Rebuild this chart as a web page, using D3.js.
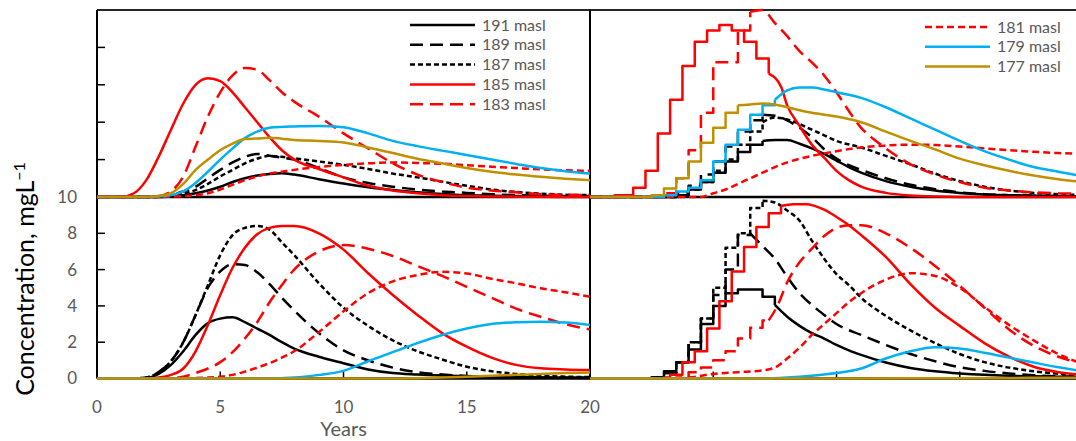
<!DOCTYPE html>
<html>
<head>
<meta charset="utf-8">
<script src="https://cdn.jsdelivr.net/npm/d3@7"></script>
<style>
  body { margin: 0; background: #fff; }
  svg { display: block; }
  text { font-family: Lato, "Open Sans", sans-serif; }
</style>
</head>
<body>
<svg id="chart" width="1076" height="441"></svg>
<script>
// ── Series (masl levels) ────────────────────────────────────────────────────
const levels = ['191', '189', '187', '185', '183', '181', '179', '177'];
const lineColors = ['#000000', '#000000', '#000000', '#ff0000', '#ff0000', '#ff0000', '#00b0f0', '#bf9000'];
const lineDash = ['', '13,7', '5,3', '', '13,7', '7,4', '', ''];

const xTicks = [0, 5, 10, 15, 20];
const yTicks = [0, 2, 4, 6, 8, 10];

// ── Left panels: shared year grid ───────────────────────────────────────────
const years = [0, 1, 1.5, 2, 2.5, 3, 3.5, 4, 4.5, 5, 5.5, 6, 6.5, 7, 7.5, 8, 9, 10, 11, 12, 13, 14, 15, 16, 17, 18, 19, 20];

// top-left
const tl191 = [0, 0, 0, 0, 0, 0.05, 0.1, 0.2, 0.35, 0.55, 0.8, 1.0, 1.15, 1.23, 1.27, 1.2, 0.95, 0.72, 0.52, 0.37, 0.25, 0.16, 0.1, 0.07, 0.05, 0.04, 0.03, 0.02];
const tl189 = [0, 0, 0, 0, 0.02, 0.1, 0.3, 0.55, 1.0, 1.45, 1.85, 2.15, 2.3, 2.2, 2.1, 2.0, 1.55, 1.05, 0.75, 0.55, 0.4, 0.3, 0.22, 0.15, 0.1, 0.07, 0.05, 0.05];
const tl187 = [0, 0, 0, 0, 0.02, 0.08, 0.2, 0.37, 0.7, 1.1, 1.45, 1.8, 2.05, 2.2, 2.15, 2.07, 1.9, 1.72, 1.5, 1.25, 1.05, 0.82, 0.6, 0.4, 0.27, 0.18, 0.12, 0.1];
const tl185 = [0, 0.02, 0.2, 0.9, 2.15, 3.6, 5.0, 6.0, 6.35, 6.2, 5.6, 4.8, 4.0, 3.2, 2.5, 2.0, 1.5, 1.05, 0.6, 0.35, 0.2, 0.1, 0.05, 0.03, 0.02, 0.01, 0, 0];
const tl183 = [0, 0, 0, 0, 0.05, 0.3, 1.1, 2.7, 4.3, 5.6, 6.5, 6.9, 6.8, 6.25, 5.6, 5.1, 4.3, 3.4, 2.6, 1.8, 1.2, 0.8, 0.5, 0.35, 0.25, 0.15, 0.12, 0.1];
const tl181 = [0, 0, 0, 0, 0, 0.02, 0.05, 0.1, 0.2, 0.4, 0.65, 0.9, 1.1, 1.25, 1.35, 1.45, 1.6, 1.72, 1.8, 1.85, 1.82, 1.78, 1.7, 1.62, 1.55, 1.48, 1.43, 1.4];
const tl179 = [0, 0, 0, 0, 0.02, 0.1, 0.3, 0.75, 1.35, 2.0, 2.6, 3.15, 3.5, 3.7, 3.75, 3.77, 3.8, 3.73, 3.4, 3.0, 2.72, 2.48, 2.25, 2.0, 1.77, 1.55, 1.38, 1.25];
const tl177 = [0, 0, 0, 0, 0.05, 0.2, 0.7, 1.45, 2.0, 2.5, 2.85, 3.1, 3.13, 3.17, 3.12, 3.05, 3.0, 2.92, 2.65, 2.35, 2.05, 1.8, 1.55, 1.35, 1.2, 1.08, 0.98, 0.9];

// bottom-left
const bl191 = [0, 0, 0, 0.02, 0.25, 0.75, 1.5, 2.4, 3.05, 3.3, 3.37, 3.1, 2.75, 2.4, 2.0, 1.65, 1.2, 0.84, 0.5, 0.3, 0.22, 0.16, 0.12, 0.1, 0.08, 0.06, 0.05, 0.05];
const bl189 = [0, 0, 0, 0.05, 0.35, 0.95, 2.0, 3.5, 5.0, 5.9, 6.3, 6.25, 5.85, 5.2, 4.45, 3.75, 2.5, 1.55, 1.0, 0.6, 0.35, 0.22, 0.14, 0.1, 0.07, 0.05, 0.04, 0.03];
const bl187 = [0, 0, 0, 0.05, 0.35, 0.95, 2.0, 3.5, 5.15, 6.8, 7.9, 8.3, 8.4, 8.2, 7.5, 6.8, 5.25, 3.9, 2.9, 2.1, 1.5, 1.05, 0.65, 0.4, 0.25, 0.15, 0.1, 0.08];
const bl185 = [0, 0, 0, 0, 0.05, 0.2, 0.55, 1.5, 2.95, 4.6, 6.1, 7.2, 7.95, 8.3, 8.4, 8.4, 8.0, 7.1, 5.8, 4.6, 3.5, 2.5, 1.75, 1.15, 0.75, 0.56, 0.5, 0.47];
const bl183 = [0, 0, 0, 0, 0, 0.02, 0.1, 0.3, 0.55, 0.9, 1.45, 2.2, 3.1, 4.2, 5.15, 6.0, 7.0, 7.35, 7.15, 6.75, 6.2, 5.65, 5.05, 4.45, 3.85, 3.4, 3.0, 2.7];
const bl181 = [0, 0, 0, 0, 0, 0, 0, 0.02, 0.05, 0.1, 0.2, 0.38, 0.6, 0.85, 1.15, 1.5, 2.55, 3.7, 4.7, 5.35, 5.7, 5.88, 5.78, 5.5, 5.25, 4.97, 4.75, 4.5];
const bl179 = [0, 0, 0, 0, 0, 0, 0, 0, 0, 0, 0, 0, 0, 0, 0.02, 0.05, 0.2, 0.42, 0.95, 1.45, 1.95, 2.4, 2.75, 3.0, 3.1, 3.13, 3.08, 2.95];
const bl177 = [0, 0, 0, 0, 0, 0, 0, 0, 0, 0, 0, 0, 0, 0, 0, 0, 0, 0, 0, 0, 0.02, 0.05, 0.1, 0.15, 0.2, 0.25, 0.3, 0.33];

// ── Right panels: stepped start, smooth tail (step part ends at *Step) ─────
// top-right
const tr191Yrs = [0, 3.5, 4, 4.5, 5, 5.5, 6, 6.5, 7, 7.5, 8, 8.5, 9, 9.5, 10, 10.5, 11, 12, 13, 14, 15, 16, 17, 18, 19, 20];
const tr191 = [0, 0.1, 0.4, 0.8, 1.3, 1.9, 2.4, 2.8, 3.0, 3.05, 3.05, 2.85, 2.6, 2.3, 1.95, 1.6, 1.3, 0.85, 0.55, 0.35, 0.22, 0.14, 0.1, 0.07, 0.05, 0.03];
const tr189Yrs = [0, 3.5, 4, 4.5, 5, 5.5, 6, 6.5, 7, 7.5, 8, 8.5, 9, 9.5, 10, 10.5, 11, 12, 13, 14, 15, 16, 17, 18, 19, 20];
const tr189 = [0, 0.2, 0.6, 1.2, 1.9, 2.7, 3.5, 4.1, 4.4, 4.35, 4.1, 3.7, 3.2, 2.55, 2.05, 1.7, 1.45, 1.0, 0.65, 0.42, 0.25, 0.15, 0.1, 0.07, 0.05, 0.04];
const tr187Yrs = [0, 3.5, 4, 4.5, 5, 5.5, 6, 6.5, 7, 7.5, 8, 8.5, 9, 9.5, 10, 11, 12, 13, 14, 15, 16, 17, 18, 19, 20];
const tr187 = [0, 0.1, 0.4, 0.8, 1.4, 2.0, 2.8, 3.5, 4.0, 4.25, 4.15, 3.9, 3.6, 3.3, 3.0, 2.65, 2.2, 1.75, 1.25, 0.85, 0.55, 0.35, 0.22, 0.15, 0.1];
const tr185Yrs = [0, 1, 1.75, 2.25, 2.75, 3.25, 3.75, 4.25, 4.75, 5.25, 5.75, 6.25, 6.75, 7.25, 7.75, 8, 8.5, 9, 9.5, 10, 10.5, 11, 12, 13, 14, 16, 20];
const tr185 = [0, 0.1, 0.5, 1.4, 3.4, 5.2, 7.0, 8.3, 8.9, 9.2, 8.9, 8.3, 7.4, 6.6, 5.9, 4.9, 3.8, 2.8, 2.1, 1.4, 0.9, 0.55, 0.22, 0.08, 0.03, 0, 0];
const tr183Yrs = [0, 3, 3.5, 4, 4.5, 5, 5.5, 6, 6.5, 7, 7.5, 8, 8.5, 9, 9.5, 10, 10.5, 11, 11.5, 12, 13, 14, 15, 16, 17, 18, 19, 20];
const tr183 = [0, 0.2, 1.0, 2.5, 4.5, 7.2, 7.2, 8.9, 9.9, 10.0, 9.3, 8.6, 7.8, 7.2, 6.5, 5.6, 4.6, 3.7, 3.1, 2.6, 1.75, 1.2, 0.8, 0.5, 0.35, 0.25, 0.2, 0.18];
const tr181Yrs = [0, 4.5, 5, 5.5, 6, 6.5, 7, 7.5, 8, 9, 10, 11, 12, 13, 14, 15, 16, 17, 18, 19, 20];
const tr181 = [0, 0, 0.2, 0.4, 0.7, 1.0, 1.3, 1.6, 1.85, 2.2, 2.45, 2.65, 2.75, 2.8, 2.78, 2.7, 2.6, 2.5, 2.42, 2.35, 2.3];
const tr179Yrs = [0, 3, 3.5, 4, 4.5, 5, 5.5, 6, 6.5, 7, 7.5, 8, 8.5, 9, 9.5, 10, 11, 12, 13, 14, 15, 16, 17, 18, 19, 20];
const tr179 = [0, 0.1, 0.3, 0.5, 0.9, 1.9, 2.8, 3.6, 4.4, 4.9, 5.2, 5.7, 5.85, 5.85, 5.75, 5.6, 5.3, 4.8, 4.2, 3.6, 3.0, 2.45, 2.0, 1.6, 1.35, 1.1];
const tr177Yrs = [0, 2.5, 3, 3.5, 4, 4.5, 5, 5.5, 6, 6.5, 7, 7.5, 8, 9, 10, 11, 12, 13, 14, 15, 16, 17, 18, 19, 20];
const tr177 = [0, 0.1, 0.45, 1.0, 1.9, 2.9, 3.7, 4.5, 4.9, 4.95, 5.0, 4.95, 4.8, 4.5, 4.3, 4.0, 3.5, 3.0, 2.55, 2.05, 1.7, 1.4, 1.15, 0.95, 0.8];
const trStep = [7, 7, 7, 7.25, 6.5, 0, 7.5, 6];

// bottom-right
const br191Yrs = [0, 2.5, 3, 3.5, 4, 4.5, 5, 5.5, 6, 6.5, 7, 7.5, 8, 8.5, 9, 9.5, 10, 10.5, 11, 12, 13, 14, 15, 16, 17, 18, 19, 20];
const br191 = [0, 0.05, 0.4, 0.9, 1.6, 3.0, 4.0, 4.7, 4.9, 4.9, 4.5, 4.05, 3.4, 2.9, 2.5, 2.2, 1.85, 1.55, 1.3, 0.88, 0.58, 0.4, 0.28, 0.2, 0.15, 0.12, 0.1, 0.08];
const br189Yrs = [0, 2.5, 3, 3.5, 4, 4.5, 5, 5.5, 6, 6.5, 7, 7.5, 8, 8.5, 9, 9.5, 10, 11, 12, 13, 14, 15, 16, 17, 18, 19, 20];
const br189 = [0, 0.05, 0.3, 0.9, 2.0, 3.3, 4.6, 6.0, 7.9, 8.0, 7.3, 6.6, 5.6, 4.7, 4.05, 3.5, 3.0, 2.4, 1.85, 1.35, 0.95, 0.62, 0.42, 0.28, 0.18, 0.12, 0.08];
const br187Yrs = [0, 2.5, 3, 3.5, 4, 4.5, 5, 5.5, 6, 6.5, 7, 7.5, 8, 8.5, 9, 9.5, 10, 10.5, 11, 12, 13, 14, 15, 16, 17, 18, 19, 20];
const br187 = [0, 0.05, 0.3, 0.9, 2.0, 3.3, 5.0, 7.2, 8.0, 9.4, 9.8, 9.7, 9.25, 8.7, 7.6, 6.6, 5.75, 5.15, 4.45, 3.45, 2.65, 1.95, 1.35, 0.9, 0.6, 0.4, 0.26, 0.18];
const br185Yrs = [0, 3, 3.25, 3.75, 4.25, 4.75, 5.25, 5.75, 6.25, 6.75, 7.25, 7.75, 8.25, 8.75, 9.5, 10, 10.5, 11, 12, 13, 14, 15, 16, 17, 18, 19, 20];
const br185 = [0, 0.05, 0.2, 0.9, 1.5, 2.75, 4.25, 5.9, 7.25, 8.35, 9.1, 9.5, 9.6, 9.6, 9.3, 8.9, 8.45, 7.9, 6.7, 5.2, 3.9, 2.9, 1.95, 1.2, 0.65, 0.35, 0.2];
const br183Yrs = [0, 3.5, 4, 4.5, 5, 5.5, 6, 6.5, 7, 7.25, 7.6, 8, 8.5, 9, 9.5, 10, 10.5, 11, 12, 13, 14, 15, 16, 17, 18, 19, 20];
const br183 = [0, 0.05, 0.35, 0.6, 1.0, 1.5, 2.2, 2.8, 3.2, 3.2, 4.0, 5.3, 6.4, 7.15, 7.85, 8.3, 8.45, 8.45, 8.0, 7.2, 6.2, 5.1, 3.9, 2.7, 1.8, 1.2, 0.8];
const br181Yrs = [0, 3.5, 4, 5, 6, 7, 7.5, 8, 8.5, 9, 9.5, 10, 10.5, 11, 12, 13, 14, 15, 16, 17, 18, 19, 20];
const br181 = [0, 0, 0.05, 0.25, 0.35, 0.45, 0.6, 1.1, 1.7, 2.4, 3.0, 3.6, 4.2, 4.7, 5.45, 5.8, 5.65, 5.0, 3.95, 2.95, 2.1, 1.35, 0.8];
const br179Yrs = [0, 7, 8, 9, 10, 11, 12, 13, 14, 15, 16, 17, 18, 19, 20];
const br179 = [0, 0, 0.05, 0.15, 0.3, 0.55, 1.1, 1.5, 1.72, 1.65, 1.42, 1.15, 0.88, 0.62, 0.4];
const br177Yrs = [0, 10, 15, 20];
const br177 = [0, 0, 0.02, 0.05];
const brStep = [7.5, 6.5, 7, 7.75, 7.25, 0, 0, 0];

// ── Layout ──────────────────────────────────────────────────────────────────
const svg = d3.select('#chart');
const plotLeft = 97, plotMid = 590, plotRight = 1076;
const plotTop = 10, plotSplit = 197, plotBase = 378.5;

const xL = d3.scaleLinear().domain([0, 20]).range([plotLeft, plotMid]);
const xR = d3.scaleLinear().domain([0, 20]).range([plotMid, plotMid + (plotMid - plotLeft)]);
const yT = d3.scaleLinear().domain([0, 10]).range([plotSplit, plotTop]);
const yB = d3.scaleLinear().domain([0, 10]).range([plotBase, plotSplit]);

const panels = [
  { id: 'tl', x: xL, y: yT, x0: plotLeft, x1: plotMid, y0: plotTop, y1: plotSplit,
    series: [tl191, tl189, tl187, tl185, tl183, tl181, tl179, tl177].map(v => ({ yrs: years, vals: v, step: 0 })) },
  { id: 'bl', x: xL, y: yB, x0: plotLeft, x1: plotMid, y0: plotSplit, y1: plotBase,
    series: [bl191, bl189, bl187, bl185, bl183, bl181, bl179, bl177].map(v => ({ yrs: years, vals: v, step: 0 })) },
  { id: 'tr', x: xR, y: yT, x0: plotMid, x1: plotRight, y0: plotTop, y1: plotSplit,
    series: [[tr191Yrs, tr191], [tr189Yrs, tr189], [tr187Yrs, tr187], [tr185Yrs, tr185],
             [tr183Yrs, tr183], [tr181Yrs, tr181], [tr179Yrs, tr179], [tr177Yrs, tr177]]
             .map((s, i) => ({ yrs: s[0], vals: s[1], step: trStep[i] })) },
  { id: 'br', x: xR, y: yB, x0: plotMid, x1: plotRight, y0: plotSplit, y1: plotBase,
    series: [[br191Yrs, br191], [br189Yrs, br189], [br187Yrs, br187], [br185Yrs, br185],
             [br183Yrs, br183], [br181Yrs, br181], [br179Yrs, br179], [br177Yrs, br177]]
             .map((s, i) => ({ yrs: s[0], vals: s[1], step: brStep[i] })) }
];

// ── Frame & ticks ───────────────────────────────────────────────────────────
const frame = svg.append('g').attr('stroke', '#000');
frame.append('line').attr('x1', plotLeft).attr('x2', plotRight).attr('y1', plotTop).attr('y2', plotTop).attr('stroke', '#262626').attr('stroke-width', 1.8);
frame.append('line').attr('x1', plotLeft).attr('x2', plotRight).attr('y1', plotSplit).attr('y2', plotSplit).attr('stroke-width', 2.5);
frame.append('line').attr('x1', plotLeft).attr('x2', plotRight).attr('y1', plotBase).attr('y2', plotBase).attr('stroke-width', 2.5);
frame.append('line').attr('x1', plotLeft).attr('x2', plotLeft).attr('y1', plotTop).attr('y2', plotBase).attr('stroke-width', 2);
frame.append('line').attr('x1', plotMid).attr('x2', plotMid).attr('y1', plotTop).attr('y2', plotBase).attr('stroke-width', 2);

// inward ticks on the left axis
[yT, yB].forEach(ys => {
  frame.append('g').selectAll('line').data(yTicks.slice(1, -1)).join('line')
    .attr('x1', plotLeft).attr('x2', plotLeft + 8)
    .attr('y1', d => ys(d)).attr('y2', d => ys(d))
    .attr('stroke-width', 1.5);
});
// inward ticks on the bottom axis
[xL, xR].forEach(xs => {
  frame.append('g').selectAll('line').data(xTicks.slice(1, -1)).join('line')
    .attr('x1', d => xs(d)).attr('x2', d => xs(d))
    .attr('y1', plotBase).attr('y2', plotBase - 7)
    .attr('stroke-width', 1.5);
});

// ── Series ──────────────────────────────────────────────────────────────────
const defs = svg.append('defs');

function seriesPath(p, s) {
  const pts = s.yrs.map((t, i) => [t, s.vals[i]]);
  const stepPts = pts.filter(d => d[0] <= s.step);
  const smoothPts = pts.filter(d => d[0] >= s.step);
  const line = d3.line().x(d => p.x(d[0])).y(d => p.y(d[1]));
  let d = '';
  if (stepPts.length > 1) d += line.curve(d3.curveStepAfter)(stepPts);
  if (smoothPts.length > 1) d += line.curve(d3.curveMonotoneX)(smoothPts);
  return d;
}

panels.forEach(p => {
  defs.append('clipPath').attr('id', 'clip-' + p.id)
    .append('rect')
    .attr('x', p.x0).attr('y', p.y0 - 3)
    .attr('width', p.x1 - p.x0).attr('height', p.y1 - p.y0 + 6);

  svg.append('g').attr('clip-path', `url(#clip-${p.id})`)
    .selectAll('path').data(p.series).join('path')
    .attr('d', s => seriesPath(p, s))
    .attr('fill', 'none')
    .attr('stroke', (s, i) => lineColors[i])
    .attr('stroke-dasharray', (s, i) => lineDash[i] || null)
    .attr('stroke-width', 2.5)
    .attr('stroke-linejoin', 'round');
});

// ── Tick labels & titles ────────────────────────────────────────────────────
const grey = '#595959';
svg.append('g').selectAll('text').data(yTicks).join('text')
  .attr('x', 77).attr('y', d => yB(d)).attr('dy', '0.35em')
  .attr('text-anchor', 'end').attr('font-size', 17).attr('fill', grey)
  .text(d => d);

svg.append('g').selectAll('text').data(xTicks).join('text')
  .attr('x', d => xL(d)).attr('y', 412.5)
  .attr('text-anchor', 'middle').attr('font-size', 17).attr('fill', grey)
  .text(d => d);

svg.append('text')
  .attr('x', xL(10)).attr('y', 436)
  .attr('text-anchor', 'middle').attr('font-size', 20).attr('fill', grey)
  .text('Years');

const yTitle = svg.append('text')
  .attr('transform', 'translate(34,279) rotate(-90)')
  .attr('text-anchor', 'middle').attr('font-size', 25).attr('fill', '#000');
yTitle.append('tspan').text('Concentration, mgL');
yTitle.append('tspan').attr('font-size', 16).attr('dy', -9).text('\u22121');

// ── Legends ─────────────────────────────────────────────────────────────────
const legendBlocks = [
  { x: 410, y: 25, items: [0, 1, 2, 3, 4] },
  { x: 925, y: 27, items: [5, 6, 7] }
];
legendBlocks.forEach(b => {
  const g = svg.append('g');
  const row = g.selectAll('g').data(b.items).join('g')
    .attr('transform', (d, i) => `translate(${b.x},${b.y + i * 19.8})`);
  row.append('line')
    .attr('x1', 0).attr('x2', 65).attr('y1', 0).attr('y2', 0)
    .attr('stroke', d => lineColors[d])
    .attr('stroke-dasharray', d => lineDash[d] || null)
    .attr('stroke-width', 2.5);
  row.append('text')
    .attr('x', 72).attr('dy', '0.35em')
    .attr('font-size', 16).attr('fill', grey)
    .text(d => levels[d] + ' masl');
});
</script>
</body>
</html>
